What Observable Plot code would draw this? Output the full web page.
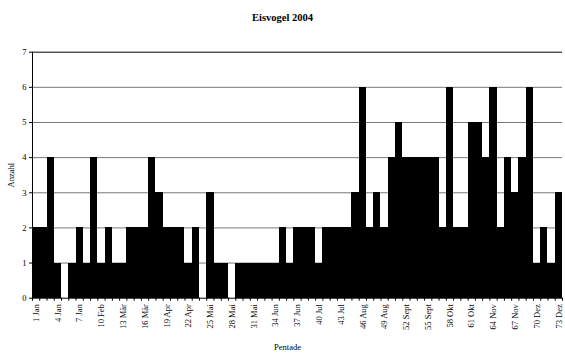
<!DOCTYPE html>
<html>
<head>
<meta charset="utf-8">
<script src="https://cdn.jsdelivr.net/npm/d3@7"></script>
<script src="https://cdn.jsdelivr.net/npm/@observablehq/plot@0.6"></script>
<style>
  html, body { margin: 0; padding: 0; background: #fff; }
  #title { width: 565px; height: 30px; box-sizing: border-box; padding-top: 12px;
           font: bold 10.5px "Liberation Serif", serif; text-align: center; line-height: 12px; color: #000; }
</style>
</head>
<body>
<div id="title">Eisvogel 2004</div>
<div id="chart"></div>
<script>
// Pentade numbers 1..73 and counts (Anzahl)
const pentades = d3.range(1, 74);
const counts = [2, 2, 4, 1, 0, 1, 2, 1, 4, 1,
                2, 1, 1, 2, 2, 2, 4, 3, 2, 2,
                2, 1, 2, 0, 3, 1, 1, 0, 1, 1,
                1, 1, 1, 1, 2, 1, 2, 2, 2, 1,
                2, 2, 2, 2, 3, 6, 2, 3, 2, 4,
                5, 4, 4, 4, 4, 4, 2, 6, 2, 2,
                5, 5, 4, 6, 2, 4, 3, 4, 6, 1,
                2, 1, 3];
const tickLabels = ["1 Jan", "4 Jan", "7 Jan", "10 Feb", "13 Mär", "16 Mär", "19 Apr", "22 Apr",
                    "25 Mai", "28 Mai", "31 Mai", "34 Jun", "37 Jun", "40 Jul", "43 Jul", "46 Aug",
                    "49 Aug", "52 Sept", "55 Sept", "58 Okt", "61 Okt", "64 Nov", "67 Nov", "70 Dez", "73 Dez"];
const yTicks = [0, 1, 2, 3, 4, 5, 6, 7];

const data = pentades.map((p, i) => ({p, n: counts[i]}));
const labelPos = tickLabels.map(s => parseInt(s));
const labelMap = new Map(tickLabels.map(s => [parseInt(s), s]));
const boundaries = pentades.map(p => p - 0.5).concat([pentades.length + 0.5]);

const chart = Plot.plot({
  width: 565,
  height: 324,
  marginTop: 21.7,
  marginBottom: 56.3,
  marginLeft: 32,
  marginRight: 3,
  style: {fontFamily: "'Liberation Serif', serif", fontSize: "8.5px", color: "#000", background: "#fff"},
  x: {domain: [0.5, pentades.length + 0.5], axis: null},
  y: {domain: [0, 7], axis: null},
  marks: [
    Plot.ruleY(yTicks.filter(d => d > 0 && d < 7), {stroke: "#7a7a7a", strokeWidth: 1}),
    Plot.ruleY([7], {stroke: "#000", strokeWidth: 1}),
    Plot.rectY(data, {x1: d => d.p - 0.5, x2: d => d.p + 0.5, y: "n", fill: "#000", shapeRendering: "crispEdges"}),
    Plot.ruleY([0], {stroke: "#000", strokeWidth: 1}),
    Plot.ruleX([0.5], {stroke: "#000", strokeWidth: 1}),
    Plot.axisY({ticks: yTicks, tickSize: 3, tickPadding: 3, tickFormat: d => d, fontSize: 8.5,
                label: "Anzahl", labelAnchor: "center", labelArrow: "none", labelOffset: 25}),
    Plot.axisX({ticks: boundaries, tickSize: 3, tickFormat: () => "", label: null}),
    Plot.axisX({ticks: labelPos, tickSize: 0, tickPadding: 6, tickRotate: -90,
                tickFormat: d => labelMap.get(d), label: null, fontSize: 8.5}),
    Plot.text(["Pentade"], {frameAnchor: "bottom", dx: -10, dy: 52, fontSize: 8.5, fill: "#000"})
  ]
});
document.getElementById("chart").appendChild(chart);
</script>
</body>
</html>
